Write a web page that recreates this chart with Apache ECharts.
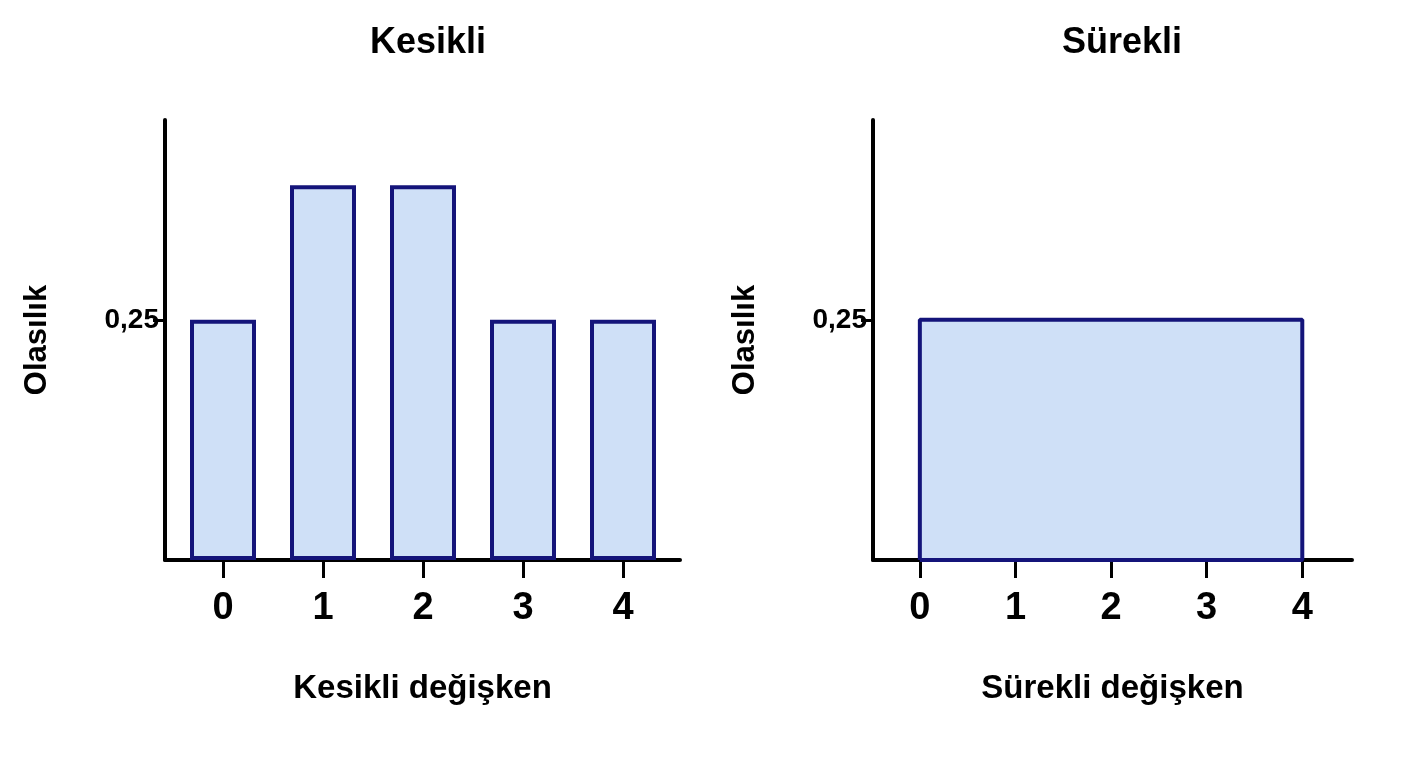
<!DOCTYPE html>
<html><head><meta charset="utf-8">
<script src="https://cdn.jsdelivr.net/npm/echarts@6/dist/echarts.min.js"></script>
<style>html,body{margin:0;background:#fff}#c{width:1408px;height:768px}</style>
</head><body><div id="c"></div>
<script>
const discreteX = [0, 1, 2, 3, 4];
const discreteP = [0.25, 0.39, 0.39, 0.25, 0.25];
const contX = [0, 0, 4, 4, 0];
const contP = [0, 0.25, 0.25, 0, 0];
const xTicks = [0, 1, 2, 3, 4];
const yTicks = [0.25];
const titles = ['Kesikli', 'Sürekli'];
const xNames = ['Kesikli değişken', 'Sürekli değişken'];
const yName = 'Olasılık';

const fill = '#cfe0f7', edge = '#14147a';
const font = 'Liberation Sans, Arial, sans-serif';
function xAxis(i, min, max) {
  return { gridIndex: i, type: 'value', min, max,
    axisLine: { onZero: false, lineStyle: { color: '#000', width: 4 } },
    axisTick: { customValues: xTicks, length: 18, lineStyle: { color: '#000', width: 3 } },
    axisLabel: { customValues: xTicks, fontSize: 38, fontWeight: 'bold', color: '#000', margin: 30, fontFamily: font },
    splitLine: { show: false },
    name: xNames[i], nameLocation: 'middle', nameGap: 112,
    nameTextStyle: { fontSize: 33, fontWeight: 'bold', color: '#000', fontFamily: font } };
}
function yAxis(i) {
  return { gridIndex: i, type: 'value', min: 0, max: 0.458,
    axisLine: { show: true, onZero: false, lineStyle: { color: '#000', width: 4 } },
    axisTick: { show: true, customValues: yTicks, length: 12, lineStyle: { color: '#000', width: 3 } },
    axisLabel: { customValues: yTicks, formatter: v => String(v).replace('.', ','), fontSize: 28, fontWeight: 'bold', color: '#000', fontFamily: font, margin: 6 },
    splitLine: { show: false },
    name: yName, nameLocation: 'middle', nameGap: 112, nameRotate: 90,
    nameTextStyle: { fontSize: 31, fontWeight: 'bold', color: '#000', fontFamily: font } };
}
const chart = echarts.init(document.getElementById('c'));
chart.setOption({
  animation: false,
  title: [
    { text: titles[0], left: 423, top: 20, textAlign: 'center', textStyle: { fontSize: 36, fontWeight: 'bold', color: '#000', fontFamily: font } },
    { text: titles[1], left: 1117, top: 20, textAlign: 'center', textStyle: { fontSize: 36, fontWeight: 'bold', color: '#000', fontFamily: font } }
  ],
  grid: [
    { left: 165, top: 120, width: 515, height: 440 },
    { left: 873, top: 120, width: 479, height: 440 }
  ],
  xAxis: [xAxis(0, -0.58, 4.57), xAxis(1, -0.49, 4.52)],
  yAxis: [yAxis(0), yAxis(1)],
  series: [
    { type: 'bar', xAxisIndex: 0, yAxisIndex: 0, barWidth: 66,
      data: discreteX.map((x, i) => [x, discreteP[i]]),
      itemStyle: { color: fill, borderColor: edge, borderWidth: 4 } },
    { type: 'line', xAxisIndex: 1, yAxisIndex: 1, symbol: 'none',
      data: contX.map((x, i) => [x, contP[i]]),
      lineStyle: { color: edge, width: 4 }, areaStyle: { color: fill, opacity: 1 } }
  ]
});
</script></body></html>
